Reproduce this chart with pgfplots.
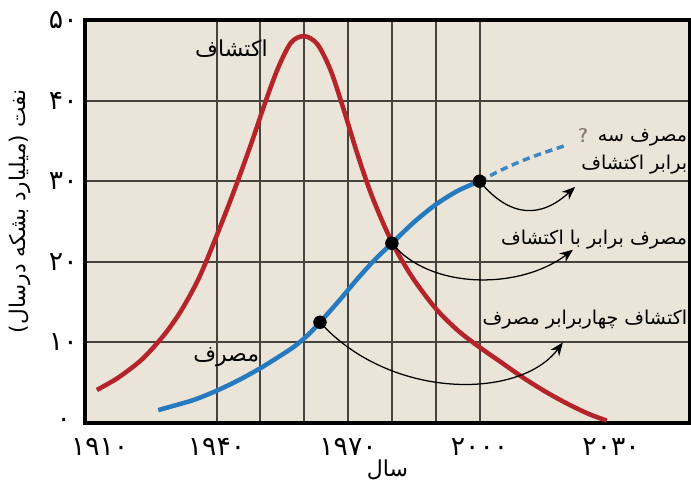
\documentclass[border=0pt]{standalone}
\usepackage{fontspec}
\usepackage{pgfplots}
\pgfplotsset{compat=1.18}
\usetikzlibrary{arrows.meta}
\TeXXeTstate=1
\newfontfamily\fa[Script=Arabic]{DejaVu Sans}
\definecolor{bgpaper}{RGB}{234,229,216}
\definecolor{gridc}{RGB}{70,66,62}
\definecolor{redc}{RGB}{180,36,42}
\definecolor{bluec}{RGB}{38,122,192}
\definecolor{qmark}{RGB}{140,128,122}

\begin{document}
\begin{tikzpicture}
\begin{axis}[
  at={(0,0)}, anchor=south west,
  scale only axis, width=453.75pt, height=302.25pt,
  xmin=1910, xmax=2048, ymin=0, ymax=50,
  axis background/.style={fill=bgpaper},
  axis line style={line width=2.6pt, black},
  xtick={1940,1950,...,2000},
  xticklabels={۱۹۴۰,,,۱۹۷۰,,,۲۰۰۰},
  extra x ticks={1910,2030},
  extra x tick labels={\hspace*{22pt}۱۹۱۰,۲۰۳۰},
  extra x tick style={grid=none},
  ytick={0,10,...,50},
  yticklabels={۰\hspace*{5pt},۱۰,۲۰,۳۰,۴۰,۵۰},
  major tick length=0pt,
  xmajorgrids, ymajorgrids,
  major grid style={line width=1.5pt, gridc},
  ticklabel style={font=\fa\fontsize{20}{20}\selectfont},
  xticklabel style={yshift=-8pt},
  yticklabel style={xshift=-2pt},
  xlabel={\beginR سال\endR},
  ylabel={\beginR نفت (میلیارد بشکه درسال)\endR},
  xlabel style={font=\fa\fontsize{16.5}{18}\selectfont, at={(rel axis cs:0.5,-0.1166)}, anchor=center},
  ylabel style={font=\fa\fontsize{16.2}{18}\selectfont, at={(rel axis cs:-0.1074,0.525)}, anchor=center},
  clip=false,
]
% discovery
\addplot[redc, line width=3.4pt, smooth] coordinates {
  (1912.7,4.1) (1917.5,5.6) (1923,7.9) (1928,10.9) (1932,14.0)
  (1936,18.0) (1940,23.2) (1944,28.8) (1948,34.8) (1951,39.6)
  (1954,44.0) (1957,47.2) (1960,48.0) (1963,47.0) (1966,43.8)
  (1969,38.9) (1972,33.6) (1975,28.8) (1978,24.8) (1981,21.4)
  (1985,17.8) (1990,14.2) (1995,11.5) (2000,9.4) (2005,7.5)
  (2010,5.6) (2015,3.9) (2020,2.4) (2025,1.1) (2029,0.3)
};
% consumption
\addplot[bluec, line width=3.4pt, smooth] coordinates {
  (1926.7,1.6) (1930,2.1) (1935,2.9) (1940,4.0) (1945,5.3)
  (1950,6.8) (1955,8.5) (1958,9.6) (1961,11.0) (1963.6,12.5)
  (1968,15.2) (1972,17.8) (1976,20.2) (1980,22.3) (1985,24.9)
  (1990,27.1) (1995,28.8) (2000,30.0)
};
\addplot[bluec!90!white, line width=2.6pt, smooth, dash pattern=on 5.5pt off 3.5pt] coordinates {
  (2000,30.0) (2005,31.4) (2010,32.6) (2015,33.6) (2020,34.5)
};
% marked points
\addplot[only marks, mark=*, mark size=4.8pt, black] coordinates {
  (1963.6,12.5) (1980,22.3) (2000,30.0)
};
% arrows
\begin{scope}[-{Stealth[length=10pt,width=8pt]}, line width=0.95pt]
\draw (axis cs:2000,30) .. controls (axis cs:2007,25.4) and (axis cs:2014,25.4) .. (axis cs:2021.8,29.3);
\draw (axis cs:1980,22.3) .. controls (axis cs:1988.7,16.5) and (axis cs:2009.2,16.5) .. (axis cs:2021.3,21.5);
\draw (axis cs:1963.6,12.5) .. controls (axis cs:1979.6,2.85) and (axis cs:2009.2,2.85) .. (axis cs:2019,10.0);
\end{scope}
% labels
\begin{scope}[every node/.style={font=\fa\fontsize{16.5}{20}\selectfont, inner sep=0pt}]
\node at (axis cs:1943.4,46.5) {اکتشاف};
\node at (axis cs:1942.2,8.2) {مصرف};
\end{scope}
\begin{scope}[every node/.style={font=\fa\fontsize{14.3}{21}\selectfont, inner sep=0pt}]
\node[anchor=east, align=right] at (axis cs:2047.4,33.7) {\beginR مصرف سه\endR\\\beginR برابر اکتشاف\endR};
\node[anchor=east] at (axis cs:2047.4,22.7) {\beginR مصرف برابر با اکتشاف\endR};
\node[anchor=east] at (axis cs:2047.4,12.8) {\beginR اکتشاف چهاربرابر مصرف\endR};
\end{scope}
\node[text=qmark, font=\sffamily\bfseries\fontsize{15}{15}\selectfont] at (axis cs:2023.6,35.7) {?};
\end{axis}
\pgfresetboundingbox
\path (-63.75pt,-47.25pt) rectangle (454.5pt,317.25pt);
\end{tikzpicture}
\end{document}
